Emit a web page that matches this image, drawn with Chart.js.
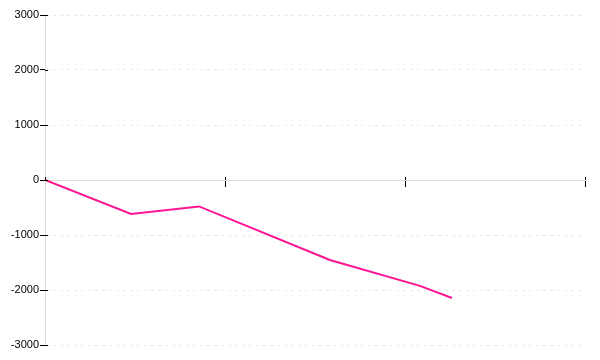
<!DOCTYPE html>
<html>
<head>
<meta charset="utf-8">
<script src="https://cdn.jsdelivr.net/npm/chart.js@4.4.0/dist/chart.umd.min.js"></script>
<style>
  html, body { margin: 0; padding: 0; background: #fff; }
  #wrap { width: 600px; height: 360px; }
</style>
</head>
<body>
<div id="wrap"><canvas id="lineChart"></canvas></div>
<script>
// values
const xValues = [0, 0.478, 0.856, 1.583, 2.083, 2.261];
const yValues = [0, -618, -480, -1455, -1925, -2145];
const yTicks = [-3000, -2000, -1000, 0, 1000, 2000, 3000];
const xTicks = [0, 1, 2, 3];

const points = xValues.map((x, i) => ({ x: x, y: yValues[i] }));

// tick marks in the reference cross the axis line, extend them a few px
const crossTicks = {
    id: 'crossTicks',
    afterDraw(chart) {
        const c = chart.ctx;
        const xs = chart.scales.x, ys = chart.scales.y;
        const y0 = ys.getPixelForValue(0);
        const left = chart.chartArea.left;
        c.save();
        c.strokeStyle = '#000';
        c.lineWidth = 1;
        c.beginPath();
        xTicks.forEach(v => {
            const px = Math.round(xs.getPixelForValue(v)) + 0.5;
            c.moveTo(px, y0 - 3);
            c.lineTo(px, y0);
        });
        yTicks.forEach(v => {
            const py = Math.round(ys.getPixelForValue(v)) + 0.5;
            c.moveTo(left, py);
            c.lineTo(left + 3, py);
        });
        c.stroke();
        c.restore();
    }
};

const ctx = document.getElementById('lineChart').getContext('2d');
new Chart(ctx, {
    type: 'line',
    data: {
        datasets: [{
            data: points,
            borderColor: '#ff1493',
            borderWidth: 2,
            pointRadius: 0,
            tension: 0,
            fill: false,
        }]
    },
    options: {
        responsive: true,
        maintainAspectRatio: false,
        animation: false,
        layout: { padding: { top: 15, right: 15, bottom: 15, left: 0 } },
        plugins: { legend: { display: false }, tooltip: { enabled: false } },
        scales: {
            x: {
                type: 'linear',
                position: { y: 0 },
                min: 0,
                max: 3,
                afterBuildTicks: (scale) => { scale.ticks = xTicks.map(v => ({ value: v })); },
                border: { color: '#dddddd', width: 1 },
                grid: { drawOnChartArea: false, drawTicks: true, tickLength: 6, tickColor: '#000', tickWidth: 1 },
                ticks: { display: false }
            },
            y: {
                min: -3000,
                max: 3000,
                afterBuildTicks: (scale) => { scale.ticks = yTicks.map(v => ({ value: v })); },
                afterFit: (scale) => { scale.width = 45; },
                border: { color: '#dddddd', width: 1, dash: [3, 4] },
                grid: { color: '#e8e8e8', tickColor: '#000', tickLength: 5, lineWidth: 1 },
                ticks: {
                    color: '#000',
                    padding: 1,
                    font: { family: 'Liberation Sans', size: 11 },
                    callback: (v) => String(v)
                }
            }
        }
    },
    plugins: [crossTicks]
});
</script>
</body>
</html>
